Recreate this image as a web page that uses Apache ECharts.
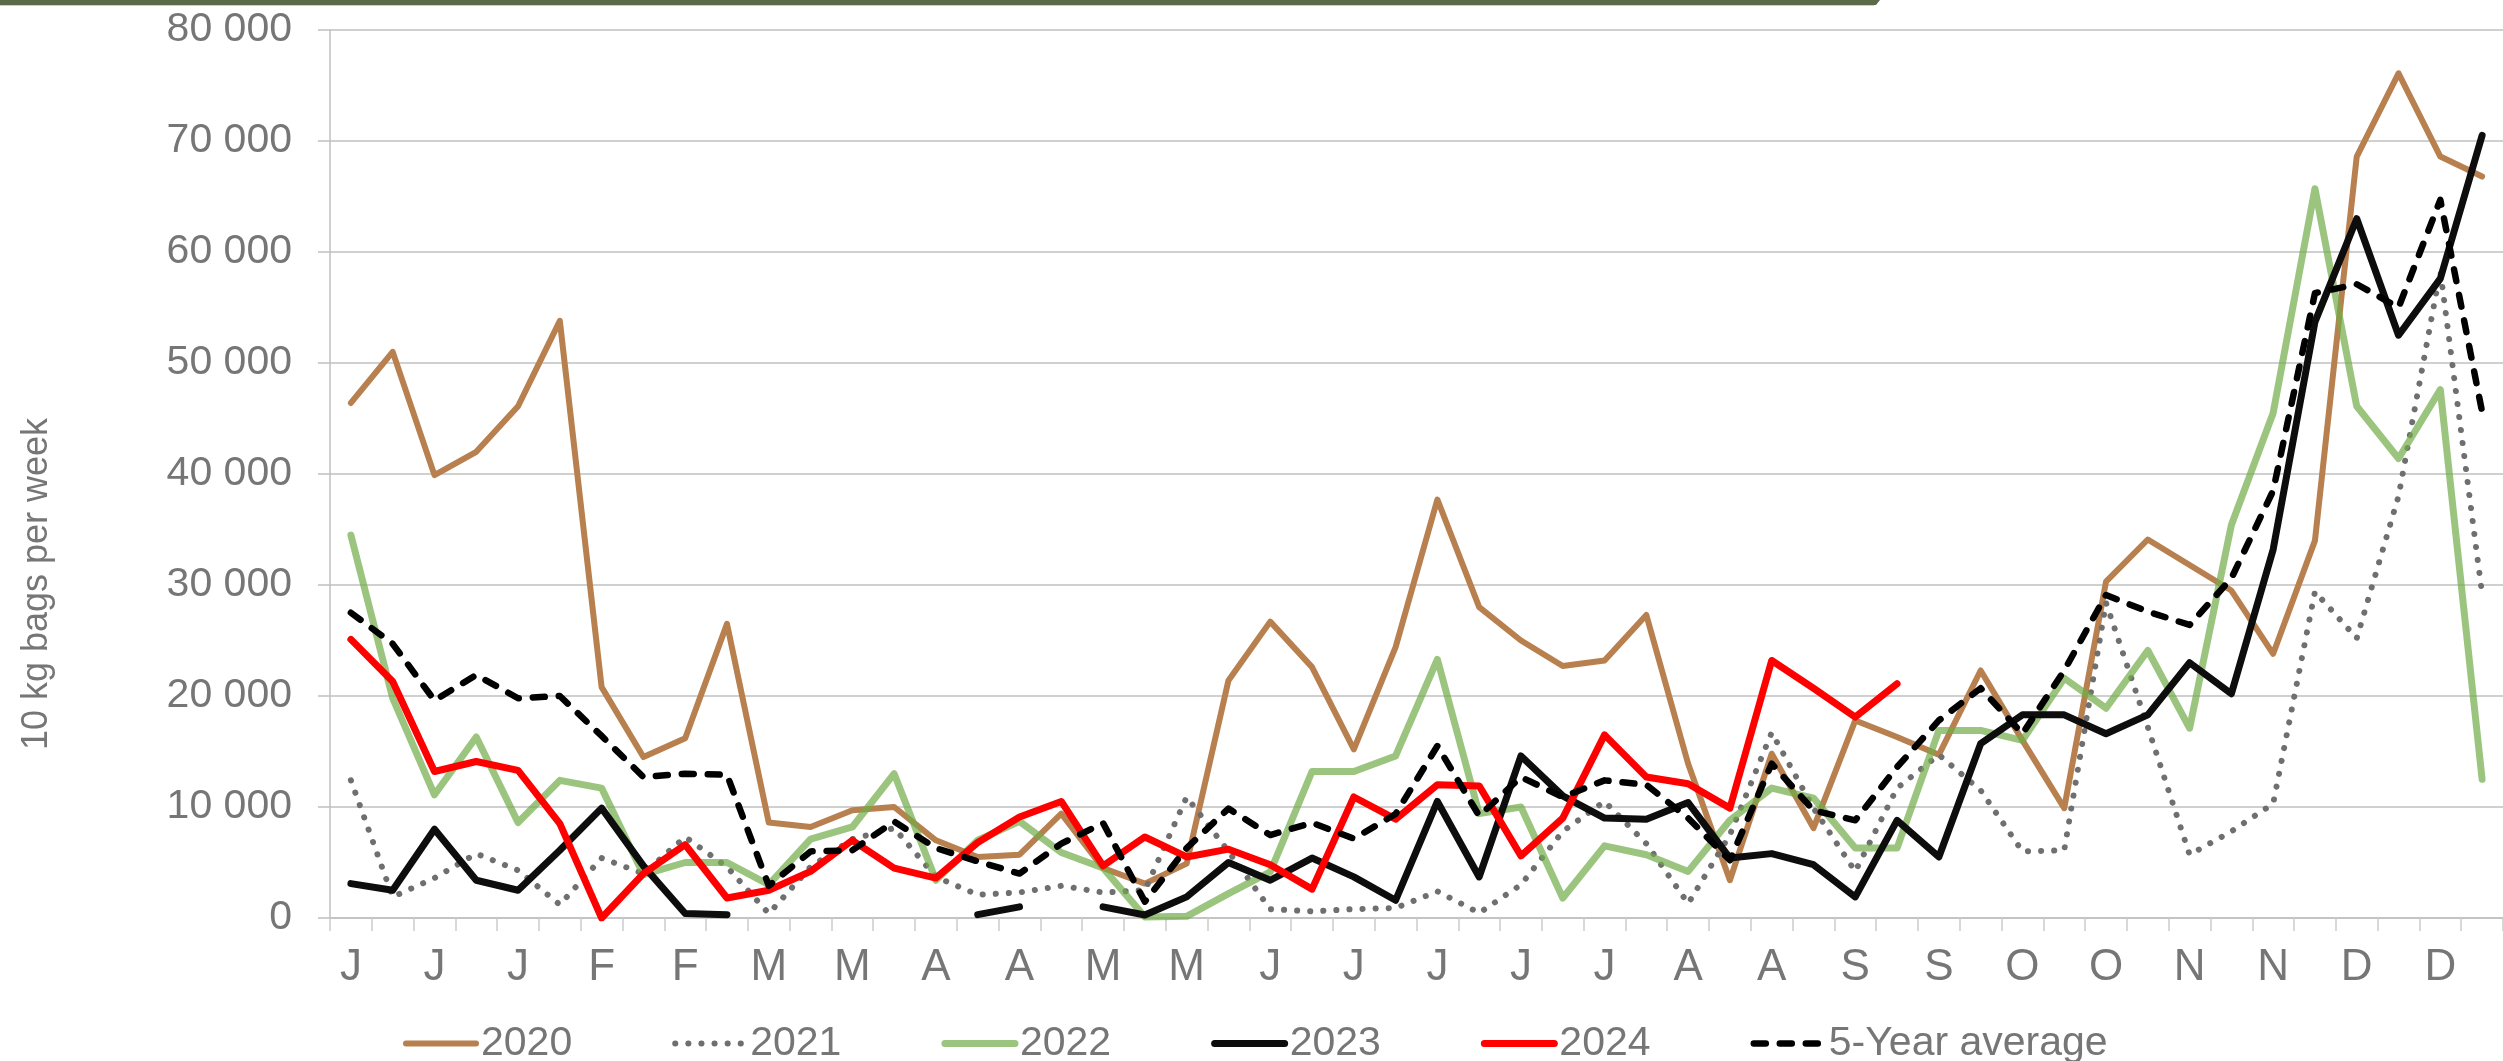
<!DOCTYPE html>
<html>
<head>
<meta charset="utf-8">
<title>10 kg bags per week</title>
<script src="https://cdn.jsdelivr.net/npm/echarts@6/dist/echarts.min.js"></script>
<style>
  html, body { margin: 0; padding: 0; background: #fff; }
  #chart { width: 2503px; height: 1061px; }
</style>
</head>
<body>
<div id="chart"></div>
<script>
var weekNumbers = [1, 2, 3, 4, 5, 6, 7, 8, 9, 10, 11, 12, 13, 14, 15, 16, 17, 18, 19, 20, 21, 22, 23, 24, 25, 26,
  27, 28, 29, 30, 31, 32, 33, 34, 35, 36, 37, 38, 39, 40, 41, 42, 43, 44, 45, 46, 47, 48, 49, 50, 51, 52];
// one letter every second week
var monthTicks = ['J', 'J', 'J', 'F', 'F', 'M', 'M', 'A', 'A', 'M', 'M', 'J', 'J',
  'J', 'J', 'J', 'A', 'A', 'S', 'S', 'O', 'O', 'N', 'N', 'D', 'D'];
var yTicks = [0, 10000, 20000, 30000, 40000, 50000, 60000, 70000, 80000];

var y2020 = [46400, 51000, 39900, 42000, 46100, 53800, 20800, 14500, 16200, 26500,
  8600, 8200, 9700, 10000, 7000, 5500, 5700, 9400, 4500, 3100,
  4900, 21400, 26700, 22600, 15200, 24400, 37700, 28000, 25000, 22700,
  23200, 27300, 13900, 3400, 14800, 8100, 17800, 16300, 14700, 22300,
  16000, 9900, 30300, 34100, 31800, 29500, 23800, 34000, 68600, 76100,
  68600, 66800];
var y2021 = [12400, 1900, 3600, 5800, 4300, 1200, 5400, 4000, 7300, 4600,
  400, 4600, 7100, 8100, 3700, 2100, 2300, 2900, 2300, 2500,
  10900, 6000, 800, 600, 800, 900, 2400, 450, 3000, 7800,
  10500, 6700, 1300, 7500, 16700, 9900, 4200, 11700, 14700, 11500,
  6000, 6100, 28400, 17200, 5700, 7800, 10300, 29400, 25200, 38000,
  58300, 29200];
var y2022 = [34500, 19800, 11100, 16300, 8600, 12400, 11700, 3900, 5000, 5000,
  3000, 7100, 8200, 13000, 3400, 7000, 8700, 5900, 4500, 100,
  150, 2200, 4150, 13200, 13200, 14600, 23300, 9400, 10000, 1800,
  6500, 5700, 4200, 8800, 11700, 10800, 6300, 6300, 16900, 16900,
  16000, 21600, 18900, 24100, 17100, 35400, 45500, 65700, 46100, 41400,
  47600, 12500];
var y2023 = [3100, 2500, 8000, 3400, 2500, 6100, 9900, 4700, 400, 300,
  null, null, null, null, null, 300, 1000, null, 1000, 270,
  1900, 5000, 3400, 5400, 3700, 1600, 10500, 3700, 14600, 11000,
  9000, 8900, 10400, 5400, 5800, 4800, 1900, 8800, 5500, 15700,
  18300, 18300, 16600, 18300, 23000, 20200, 33200, 53700, 63000, 52500,
  57600, 70500];
var y2024 = [25100, 21300, 13200, 14100, 13300, 8500, 0, 4000, 6600, 1800,
  2500, 4200, 7000, 4500, 3600, 6800, 9100, 10500, 4700, 7300,
  5500, 6200, 4800, 2600, 10900, 8900, 12000, 11900, 5600, 9000,
  16500, 12700, 12100, 9900, 23200, 20700, 18100, 21100, null, null,
  null, null, null, null, null, null, null, null, null, null,
  null, null];
var avg5 = [27500, 24700, 19600, 21900, 19800, 20000, 16400, 12700, 13000, 12900,
  2900, 6000, 6100, 8700, 6300, 5100, 4000, 6700, 8550, 1470,
  6300, 9860, 7470, 8580, 7150, 9370, 15500, 9200, 12700, 10900,
  12400, 12000, 9000, 5200, 13900, 9700, 8800, 13600, 17800, 20700,
  16600, 22300, 29100, 27600, 26400, 30600, 38500, 56300, 57100, 55000,
  64700, 45600];

var textGrey = '#767676';
var gridGrey = '#c0c0c0';
var font = "'Liberation Sans', Arial, sans-serif";

function spaced(v) {
  return String(v).replace(/\B(?=(\d{3})+(?!\d))/g, ' ');
}

function lineSeries(name, data, color, width, type, opacity) {
  return {
    name: name,
    type: 'line',
    data: data,
    symbol: 'none',
    connectNulls: false,
    animation: false,
    lineStyle: {
      color: color,
      width: width,
      type: type,
      cap: 'round',
      join: 'round',
      opacity: opacity
    },
    itemStyle: { color: color, opacity: opacity }
  };
}

var myChart = echarts.init(document.getElementById('chart'));
myChart.setOption({
  backgroundColor: '#ffffff',
  textStyle: { fontFamily: font },
  grid: { left: 330, top: 30, width: 2180, height: 888 },
  graphic: [
    {
      type: 'polygon',
      shape: { points: [[0, 0], [1880, 0], [1876, 5], [0, 5]] },
      style: { fill: '#5b6a47' }
    },
    {
      type: 'rect',
      shape: { x: 0, y: 5, width: 1874, height: 1 },
      style: { fill: '#c9d2bd' }
    },
    {
      type: 'text',
      x: 37,
      y: 584,
      rotation: Math.PI / 2,
      style: {
        text: '10 kg bags per week',
        fill: textGrey,
        font: '36px ' + font,
        align: 'center',
        verticalAlign: 'middle'
      }
    }
  ],
  legend: {
    data: ['2020', '2021', '2022', '2023', '2024', '5-Year average'],
    left: 398,
    top: 1018,
    itemGap: 100,
    itemWidth: 70,
    itemHeight: 14,
    itemStyle: { opacity: 0 },
    lineStyle: { width: 'inherit' },
    textStyle: { fontSize: 41, color: textGrey, fontFamily: font }
  },
  xAxis: {
    type: 'category',
    data: weekNumbers,
    boundaryGap: true,
    axisLine: { lineStyle: { color: gridGrey, width: 1.5 } },
    axisTick: { show: true, interval: 0, length: 13, lineStyle: { color: '#cccccc', width: 1.5 } },
    axisLabel: {
      interval: 0,
      margin: 28,
      fontSize: 44,
      color: textGrey,
      fontFamily: font,
      formatter: function (v, i) {
        return i % 2 === 0 ? monthTicks[i / 2] : '';
      }
    },
    splitLine: { show: false }
  },
  yAxis: {
    type: 'value',
    min: yTicks[0],
    max: yTicks[yTicks.length - 1],
    interval: 10000,
    axisLine: { show: true, lineStyle: { color: gridGrey, width: 1.5 } },
    axisTick: { show: true, length: 12, lineStyle: { color: gridGrey, width: 1.5 } },
    axisLabel: {
      margin: 38,
      fontSize: 41,
      color: textGrey,
      fontFamily: font,
      formatter: spaced
    },
    splitLine: { show: true, lineStyle: { color: gridGrey, width: 1.5 } }
  },
  series: [
    lineSeries('2020', y2020, '#b8804f', 6, 'solid', 1),
    lineSeries('2021', y2021, '#6f6f6f', 6, [0.1, 13], 1),
    lineSeries('2022', y2022, '#70ad47', 7, 'solid', 0.7),
    lineSeries('2023', y2023, '#0d0d0d', 7, 'solid', 1),
    lineSeries('2024', y2024, '#ff0000', 7, 'solid', 1),
    lineSeries('5-Year average', avg5, '#000000', 6.5, [12, 14], 1)
  ]
});
</script>
</body>
</html>
